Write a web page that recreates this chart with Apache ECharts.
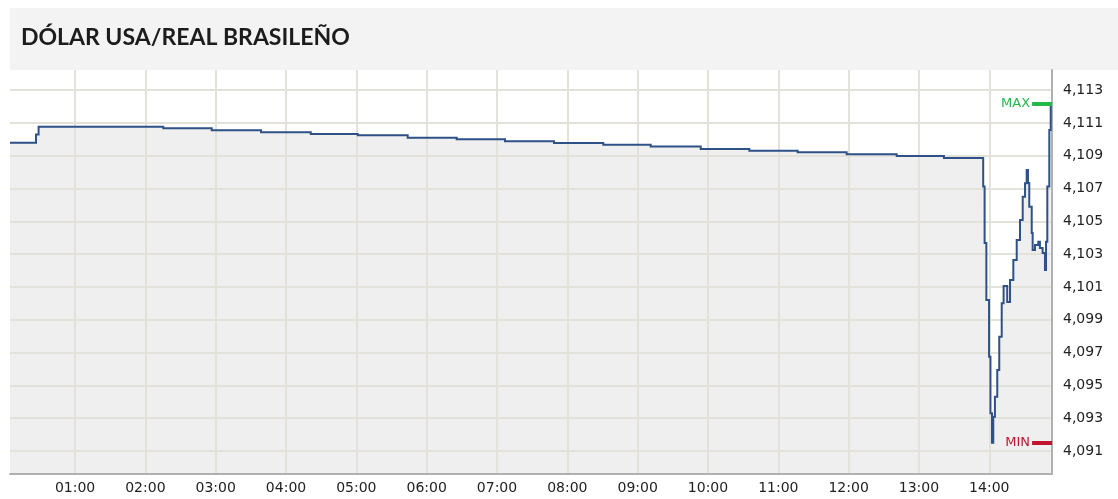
<!DOCTYPE html>
<html>
<head>
<meta charset="utf-8">
<script src="https://cdn.jsdelivr.net/npm/echarts@6/dist/echarts.min.js"></script>
<style>html,body{margin:0;padding:0;background:#fff}#chart{width:1118px;height:499px}</style>
</head>
<body>
<div id="chart"></div>
<script>
const chartTitle = 'DÓLAR USA/REAL BRASILEÑO';
// minutes after midnight at which each quote starts
const times = [4.5, 26.7, 28.9, 135.3, 176.6, 218.7, 261.1, 301.2, 343.8, 385.6, 426.8, 468.6, 510.7, 551.1, 593.8, 635.3, 676.5, 718.3, 761, 801.3,
  834.8, 836.0, 837.5, 839.8, 841.0, 842.3, 843.4, 844.8, 846.8, 848.5, 850.6, 852.2, 855.3, 857.7, 860.5, 863.4, 866.2, 868.5, 870.5, 871.9,
  873.0, 874.1, 876.2, 877.0, 879.0, 881.8, 883.2, 885.5, 887.5, 888.4, 889.5, 891.2, 892.4];
const rates = [4.1098, 4.1103, 4.11077, 4.11068, 4.11055, 4.11044, 4.11033, 4.11025, 4.1101, 4.11001, 4.10988, 4.10978, 4.10968, 4.10956, 4.10941, 4.10931, 4.10921, 4.10909, 4.10899, 4.10887,
  4.10712, 4.10368, 4.10021, 4.09675, 4.0933, 4.0915, 4.09309, 4.09431, 4.09594, 4.09797, 4.10001, 4.10106, 4.10009, 4.10143, 4.10265, 4.10387, 4.10509, 4.10651, 4.10732, 4.10813,
  4.10734, 4.1059, 4.10429, 4.10326, 4.10356, 4.10376, 4.10338, 4.10307, 4.10204, 4.10376, 4.10712, 4.11057, 4.1122];
const hourTicks = [60, 120, 180, 240, 300, 360, 420, 480, 540, 600, 660, 720, 780, 840];
const hourLabels = ['01:00', '02:00', '03:00', '04:00', '05:00', '06:00', '07:00', '08:00', '09:00', '10:00', '11:00', '12:00', '13:00', '14:00'];
const rateTicks = [4.091, 4.093, 4.095, 4.097, 4.099, 4.101, 4.103, 4.105, 4.107, 4.109, 4.111, 4.113];
const rateLabels = ['4,091', '4,093', '4,095', '4,097', '4,099', '4,101', '4,103', '4,105', '4,107', '4,109', '4,111', '4,113'];

const xMin = 4.5, xMax = 893.5;
const yMin = 4.0896, yMax = 4.11423;
const maxRate = Math.max(...rates);
const minRate = Math.min(...rates);
const markStart = xMax - 17;

// each quote holds until the next one starts (step path built from the data)
const stepData = [];
times.forEach((t, i) => {
  if (i > 0) stepData.push([t, rates[i - 1]]);
  stepData.push([t, rates[i]]);
});

function stepPoints(api) {
  return stepData.map(d => api.coord(d));
}

const chart = echarts.init(document.getElementById('chart'), null, {renderer: 'canvas'});
chart.setOption({
  animation: false,
  backgroundColor: '#ffffff',
  title: {
    text: chartTitle,
    left: 21, top: 26, padding: 0,
    textStyle: {fontFamily: 'Lato', fontWeight: 'bold', fontSize: 23, color: '#1c1c1c'}
  },
  graphic: [{
    type: 'rect', left: 10, top: 8, z: -10, silent: true,
    shape: {width: 1108, height: 62},
    style: {fill: '#f3f3f3'}
  }],
  grid: {left: 10, right: 66, top: 70, bottom: 25, containLabel: false},
  xAxis: {
    type: 'value', min: xMin, max: xMax,
    axisLine: {show: true, lineStyle: {color: '#b0b0b0', width: 2}},
    axisTick: {show: false, customValues: hourTicks},
    axisLabel: {
      customValues: hourTicks, margin: 7,
      fontFamily: 'DejaVu Sans', fontSize: 14, color: '#222',
      formatter: v => hourLabels[hourTicks.indexOf(v)]
    },
    splitLine: {show: true, lineStyle: {color: '#e2e2da', width: 2}}
  },
  yAxis: {
    type: 'value', position: 'right', min: yMin, max: yMax, scale: true,
    axisLine: {show: true, lineStyle: {color: '#b0b0b0', width: 2}},
    axisTick: {show: false, customValues: rateTicks},
    axisLabel: {
      customValues: rateTicks, margin: 11,
      fontFamily: 'DejaVu Sans', fontSize: 14, color: '#222',
      formatter: v => rateLabels[rateTicks.indexOf(v)]
    },
    splitLine: {show: true, lineStyle: {color: '#e2e2da', width: 2}}
  },
  series: [{
    // shaded area under the quote line (beneath the grid lines)
    type: 'custom', z: -1, silent: true,
    data: [[xMin, yMin]],
    renderItem: (params, api) => {
      const pts = stepPoints(api);
      const bottom = api.coord([xMin, yMin])[1];
      const poly = [[pts[0][0], bottom]].concat(pts, [[pts[pts.length - 1][0], bottom]]);
      return {type: 'polygon', shape: {points: poly}, style: {fill: '#efefef'}};
    }
  }, {
    // quote line
    type: 'custom', z: 3, silent: true,
    data: [[xMin, yMin]],
    renderItem: (params, api) => ({
      type: 'polyline', shape: {points: stepPoints(api)},
      style: {stroke: '#2e5287', lineWidth: 2, fill: null, lineJoin: 'miter'}
    })
  }, {
    // carries the MAX / MIN markers
    type: 'line', symbol: 'none', z: 4,
    data: stepData,
    lineStyle: {opacity: 0, width: 0},
    markLine: {
      silent: true, symbol: ['none', 'none'], animation: false,
      data: [
        [{coord: [markStart, maxRate], lineStyle: {color: '#27b84a', width: 4, type: 'solid'},
          label: {show: true, position: 'start', distance: 2, formatter: 'MAX', color: '#27b84a', fontFamily: 'DejaVu Sans', fontSize: 13}},
         {coord: [xMax, maxRate]}],
        [{coord: [markStart, minRate], lineStyle: {color: '#c0132f', width: 4, type: 'solid'},
          label: {show: true, position: 'start', distance: 2, formatter: 'MIN', color: '#c0132f', fontFamily: 'DejaVu Sans', fontSize: 13}},
         {coord: [xMax, minRate]}]
      ]
    }
  }]
});
</script>
</body>
</html>
